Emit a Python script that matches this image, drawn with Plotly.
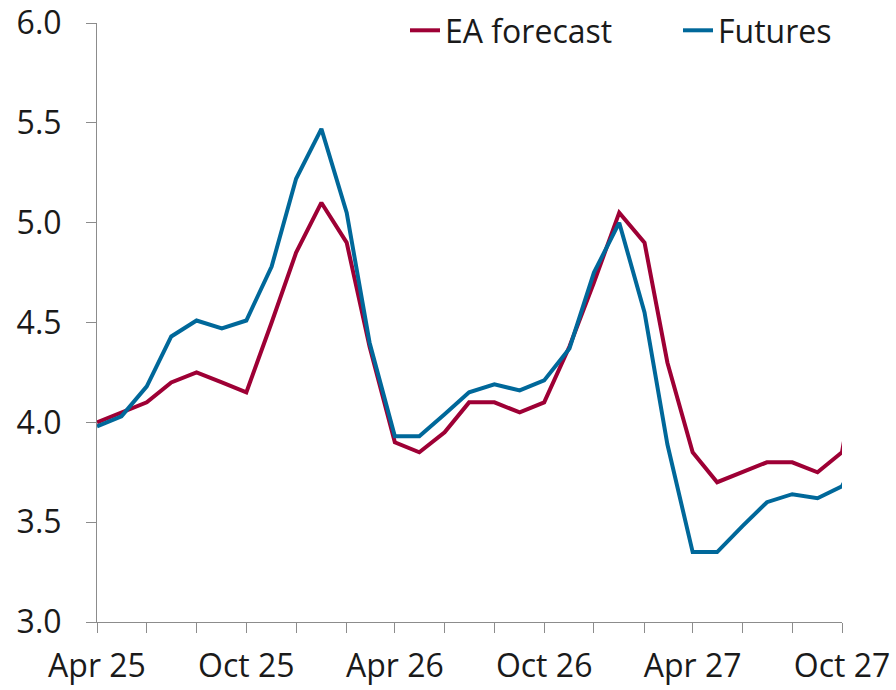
import plotly.graph_objects as go

months = ["2025-04-01", "2025-05-01", "2025-06-01", "2025-07-01", "2025-08-01", "2025-09-01",
          "2025-10-01", "2025-11-01", "2025-12-01", "2026-01-01", "2026-02-01", "2026-03-01",
          "2026-04-01", "2026-05-01", "2026-06-01", "2026-07-01", "2026-08-01", "2026-09-01",
          "2026-10-01", "2026-11-01", "2026-12-01", "2027-01-01", "2027-02-01", "2027-03-01",
          "2027-04-01", "2027-05-01", "2027-06-01", "2027-07-01", "2027-08-01", "2027-09-01",
          "2027-10-01", "2027-11-01"]

ea_forecast = [4.00, 4.05, 4.10, 4.20, 4.25, 4.20, 4.15, 4.50, 4.85, 5.10, 4.90, 4.38,
               3.90, 3.85, 3.95, 4.10, 4.10, 4.05, 4.10, 4.38, 4.70, 5.05, 4.90, 4.30,
               3.85, 3.70, 3.75, 3.80, 3.80, 3.75, 3.85, 4.55]

futures = [3.98, 4.03, 4.18, 4.43, 4.51, 4.47, 4.51, 4.78, 5.22, 5.47, 5.05, 4.40,
           3.93, 3.93, 4.04, 4.15, 4.19, 4.16, 4.21, 4.37, 4.75, 5.00, 4.55, 3.89,
           3.35, 3.35, 3.48, 3.60, 3.64, 3.62, 3.68, 3.92]

y_ticks = [3.0, 3.5, 4.0, 4.5, 5.0, 5.5, 6.0]

RED = "#9E0035"
BLUE = "#00689A"
FONT = "Open Sans"
TXT = "#1a1a1a"
AX = "#8c8c8c"

fig = go.Figure()
fig.add_trace(go.Scatter(x=months, y=ea_forecast, mode="lines", name="EA forecast",
                         line=dict(color=RED, width=4), legend="legend"))
fig.add_trace(go.Scatter(x=months, y=futures, mode="lines", name="Futures",
                         line=dict(color=BLUE, width=4), legend="legend2"))

leg_common = dict(orientation="h", yanchor="top", y=1.0 + 20 / 599, xanchor="left",
                  bgcolor="rgba(0,0,0,0)", font=dict(size=32, color=TXT, family=FONT))

fig.update_layout(
    width=896, height=690,
    margin=dict(l=97, r=54, t=23, b=68, autoexpand=False),
    paper_bgcolor="white", plot_bgcolor="white",
    font=dict(family=FONT, size=32, color=TXT),
    showlegend=True,
    legend=dict(x=(405 - 97) / 745, **leg_common),
    legend2=dict(x=(678 - 97) / 745, **leg_common),
)

fig.update_xaxes(
    type="date",
    range=["2025-04-01", "2027-10-01"],
    tick0="2025-04-01", dtick="M6", tickformat="%b %y",
    ticks="outside", ticklen=10, tickcolor=AX, tickwidth=1,
    showline=True, linecolor=AX, linewidth=1,
    showgrid=False, zeroline=False, automargin=False,
    tickfont=dict(size=32, color=TXT),
    ticklabelstandoff=6, ticklabeloverflow="allow",
    minor=dict(dtick="M2", tick0="2025-04-01", ticks="outside", ticklen=10,
               tickcolor=AX, tickwidth=1, showgrid=False),
)

fig.update_yaxes(
    range=[3.0, 6.0],
    tickvals=y_ticks, tickformat=".1f",
    ticks="outside", ticklen=10, tickcolor=AX, tickwidth=1,
    showline=True, linecolor=AX, linewidth=1,
    showgrid=False, zeroline=False, automargin=False,
    tickfont=dict(size=32, color=TXT),
    ticklabelstandoff=18, ticklabeloverflow="allow",
)

fig.write_html("out.html",
               config={"displayModeBar": False},
               post_script="document.body.style.margin='0';document.body.style.overflow='hidden';")
